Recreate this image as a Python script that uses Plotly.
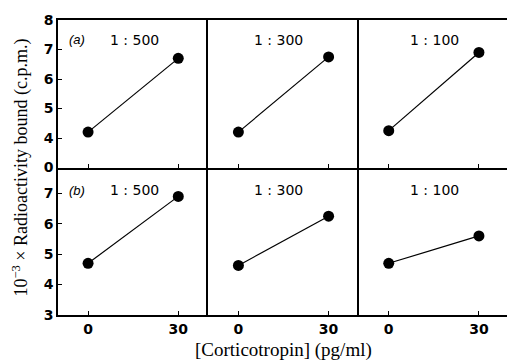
import plotly.graph_objects as go
from plotly.subplots import make_subplots

doses = [0, 30]
dilutions = ["1 : 500", "1 : 300", "1 : 100"]
row_a = [[4.2, 6.7], [4.2, 6.75], [4.25, 6.9]]
row_b = [[4.7, 6.9], [4.63, 6.25], [4.7, 5.6]]
panel_tags = ["(a)", "(b)"]
top_tickvals = [3, 4, 5, 6, 7, 8]
top_ticktext = ["0", "4", "5", "6", "7", "8"]
bot_tickvals = [3, 4, 5, 6, 7]
bot_ticktext = ["3", "4", "5", "6", "7"]

fig = make_subplots(rows=2, cols=3, horizontal_spacing=0, vertical_spacing=0,
                    shared_xaxes=False, shared_yaxes=False)

for r, data in enumerate([row_a, row_b], start=1):
    for c, vals in enumerate(data, start=1):
        fig.add_trace(go.Scatter(x=doses, y=vals, mode="lines+markers",
                                 line=dict(color="black", width=1.2),
                                 marker=dict(color="black", size=11),
                                 showlegend=False), row=r, col=c)

tickfont = dict(family="DejaVu Sans", size=14, color="black", weight="bold")
LW = 1.5
for r in (1, 2):
    for c in (1, 2, 3):
        fig.update_xaxes(range=[-10, 40], tickvals=doses,
                         ticktext=[str(d) for d in doses],
                         showticklabels=(r == 2), ticks="inside", ticklen=4,
                         tickcolor="black", showline=True,
                         mirror=(True if r == 1 else False),
                         linecolor="black", linewidth=LW, showgrid=False,
                         zeroline=False, tickfont=tickfont, row=r, col=c)
        if r == 1:
            fig.update_yaxes(range=[3, 8], tickvals=top_tickvals, ticktext=top_ticktext,
                             row=r, col=c)
        else:
            fig.update_yaxes(range=[3, 7.85], tickvals=bot_tickvals, ticktext=bot_ticktext,
                             row=r, col=c)
        fig.update_yaxes(showticklabels=(c == 1), ticks="inside" if c == 1 else "",
                         ticklen=4, tickcolor="black", showline=True,
                         mirror=(True if c == 3 else False),
                         linecolor="black", linewidth=LW, showgrid=False,
                         zeroline=False, tickfont=tickfont, row=r, col=c)

ann = []
label_x = [15.5, 13.5, 15.2]
for r in (1, 2):
    yv = 7.33 if r == 1 else 7.1
    for c in (1, 2, 3):
        idx = (r - 1) * 3 + c
        xr = "x" if idx == 1 else f"x{idx}"
        yr = "y" if idx == 1 else f"y{idx}"
        ann.append(dict(x=label_x[c - 1], y=yv, xref=xr, yref=yr, text=dilutions[c - 1],
                        showarrow=False, font=dict(family="DejaVu Sans", size=14, color="black")))
        if c == 1:
            ann.append(dict(x=-3.6, y=yv, xref=xr, yref=yr, text=f"<i>{panel_tags[r-1]}</i>",
                            showarrow=False, font=dict(family="Liberation Sans", size=13, color="black")))

ann.append(dict(x=-0.084, y=0.5, xref="paper", yref="paper",
                text="10<sup>−3</sup> × Radioactivity bound (c.p.m.)", textangle=-90,
                showarrow=False, xanchor="center", yanchor="middle",
                font=dict(family="Liberation Serif", size=18, color="black")))
ann.append(dict(x=0.5, y=-0.118, xref="paper", yref="paper",
                text="[Corticotropin] (pg/ml)", showarrow=False,
                xanchor="center", yanchor="middle",
                font=dict(family="Liberation Serif", size=19, color="black")))

# page body adds an 8px margin; size the figure so the plot lands where the reference has it
fig.update_layout(width=507, height=354, margin=dict(l=50, r=4, t=10, b=47),
                  plot_bgcolor="white", paper_bgcolor="white", annotations=ann)

fig.write_html("out.html")
